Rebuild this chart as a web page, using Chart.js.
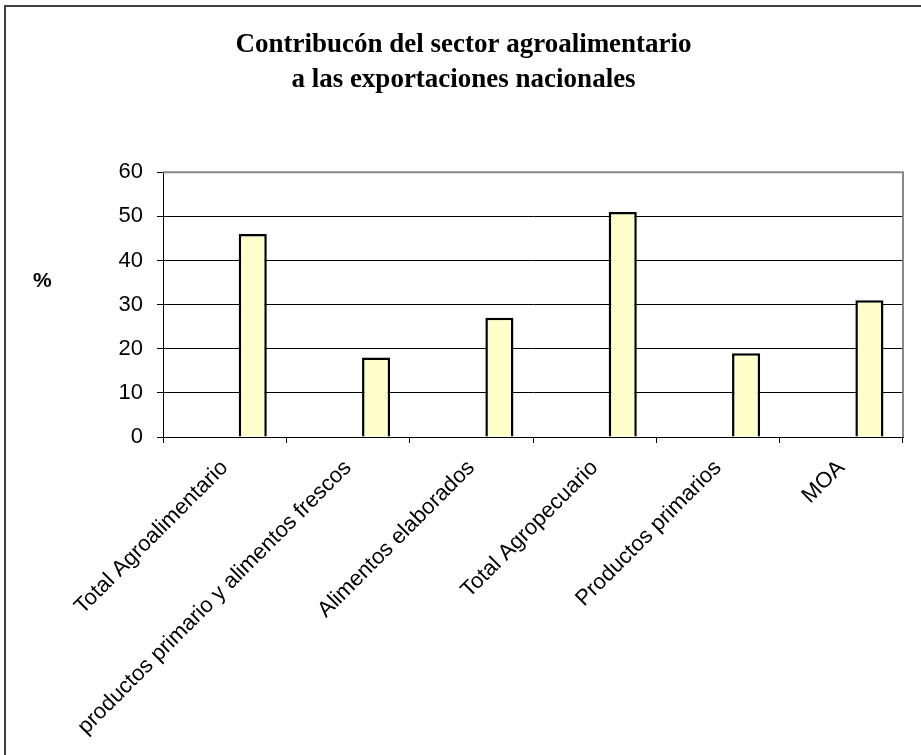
<!DOCTYPE html>
<html>
<head>
<meta charset="utf-8">
<script src="https://cdn.jsdelivr.net/npm/chart.js@4.4.1/dist/chart.umd.min.js"></script>
<style>
  body { margin: 0; background: #fff; }
  #wrap { position: relative; width: 921px; height: 755px; }
  #frame { position: absolute; left: 4px; top: 5px; right: 0; bottom: 0; border-top: 2px solid #404040; border-left: 2px solid #404040; pointer-events: none; }
  #pct { position: absolute; left: 33px; top: 268px; font: bold 21px "Liberation Sans", Arial, sans-serif; color: #000; }
</style>
</head>
<body>
<div id="wrap">
  <canvas id="chart" width="921" height="755"></canvas>
  <div id="frame"></div>
  <div id="pct">%</div>
</div>
<script>
document.addEventListener("DOMContentLoaded", function () {
// datos del grafico
const categories = [
    'Total Agroalimentario',
    'productos primario y alimentos frescos',
    'Alimentos elaborados',
    'Total Agropecuario',
    'Productos primarios',
    'MOA'
];
const values = [46, 18, 27, 51, 19, 31];
const emptySeries = [null, null, null, null, null, null];
const yMin = 0;
const yMax = 60;
const yStep = 10;
const titleLines = ['Contribucón del sector agroalimentario', 'a las exportaciones nacionales'];

// borde gris arriba y a la derecha del area de trazado
const plotBorder = {
    id: 'plotBorder',
    afterDraw(chart) {
        const a = chart.chartArea;
        const ctx = chart.ctx;
        ctx.save();
        ctx.strokeStyle = '#888888';
        ctx.lineWidth = 2;
        ctx.beginPath();
        ctx.moveTo(a.left, a.top);
        ctx.lineTo(a.right, a.top);
        ctx.lineTo(a.right, a.bottom);
        ctx.stroke();
        ctx.restore();
    }
};

const ctx = document.getElementById('chart').getContext('2d');
const chart = new Chart(ctx, {
    type: 'bar',
    data: {
        labels: categories,
        datasets: [
            { data: emptySeries },
            { data: emptySeries },
            {
                label: '%',
                data: values,
                backgroundColor: '#FFFFCC',
                borderColor: '#000000',
                borderWidth: 2.5,
                borderSkipped: 'start'
            }
        ]
    },
    options: {
        responsive: false,
        animation: false,
        devicePixelRatio: 1,
        categoryPercentage: 0.683,
        barPercentage: 1,
        layout: {
            padding: { left: 24, right: 18, top: 27, bottom: 0 }
        },
        plugins: {
            legend: { display: false },
            tooltip: { enabled: false },
            title: {
                display: true,
                text: titleLines,
                color: '#000',
                font: { family: '"Liberation Serif", "Times New Roman", serif', size: 27, weight: 'bold', lineHeight: 1.3 },
                padding: { top: 0, bottom: 75 }
            }
        },
        scales: {
            x: {
                offset: true,
                grid: {
                    offset: true,
                    drawOnChartArea: false,
                    drawTicks: true,
                    tickLength: 6,
                    tickColor: '#000'
                },
                border: { color: '#000', width: 1 },
                ticks: {
                    color: '#000',
                    maxRotation: 45,
                    minRotation: 45,
                    autoSkip: false,
                    padding: 12,
                    font: { family: '"Liberation Sans", Arial, sans-serif', size: 22 }
                },
                afterFit(scale) { scale.height = 318; }
            },
            y: {
                min: yMin,
                max: yMax,
                ticks: {
                    stepSize: yStep,
                    color: '#000',
                    padding: 14,
                    font: { family: '"Liberation Sans", Arial, sans-serif', size: 22 }
                },
                grid: {
                    color: '#000',
                    lineWidth: 1,
                    tickLength: 6,
                    tickColor: '#000'
                },
                border: { color: '#000', width: 1 },
                afterFit(scale) { scale.width = 139; }
            }
        }
    },
    plugins: [plotBorder]
});
});
</script>
</body>
</html>
